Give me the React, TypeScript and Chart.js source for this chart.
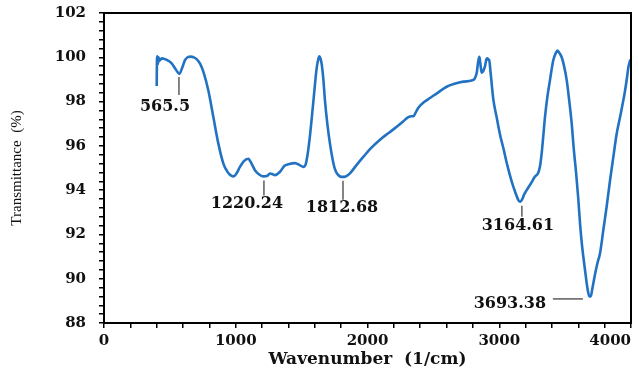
import React, { useEffect, useRef } from "react";
import { Chart, registerables } from "chart.js";

Chart.register(...registerables);

const wavenumbers = [
  400, 402, 405, 410, 414, 421, 438, 476, 514, 545, 572, 595, 615, 635, 658, 680, 703, 730, 754, 792,
  830, 868, 906, 935, 956, 982, 1005, 1032, 1060, 1095, 1120, 1146, 1175, 1209, 1240, 1260, 1280, 1298,
  1336, 1370, 1400, 1450, 1488, 1513, 1530, 1545, 1564, 1589, 1614, 1626, 1634, 1643, 1652, 1665, 1677,
  1695, 1715, 1735, 1753, 1775, 1804, 1835, 1867, 1915, 1968, 2030, 2095, 2160, 2222, 2270, 2310, 2335,
  2350, 2365, 2386, 2430, 2474, 2540, 2601, 2660, 2727, 2790, 2815, 2829, 2840, 2849, 2857, 2867, 2880,
  2892, 2902, 2910, 2918, 2924, 2935, 2955, 2980, 3006, 3031, 3060, 3094, 3125, 3145, 3160, 3175, 3190,
  3208, 3240, 3270, 3297, 3310, 3322, 3335, 3347, 3365, 3385, 3410, 3430, 3441, 3456, 3474, 3492, 3512,
  3530, 3550, 3565, 3583, 3600, 3613, 3625, 3638, 3655, 3670, 3684, 3695, 3705, 3727, 3745, 3765, 3790,
  3815, 3840, 3866, 3890, 3917, 3940, 3955, 3970, 3980, 3995,
];

const transmittance = [
  98.7, 99.9, 100.05, 99.7, 100.0, 99.85, 99.95, 99.88, 99.72, 99.45, 99.25, 99.55, 99.87, 100.0, 100.03,
  100.0, 99.92, 99.7, 99.35, 98.5, 97.3, 96.1, 95.2, 94.85, 94.7, 94.62, 94.75, 95.05, 95.3, 95.42, 95.2,
  94.9, 94.72, 94.62, 94.65, 94.75, 94.72, 94.68, 94.83, 95.1, 95.17, 95.22, 95.12, 95.05, 95.15, 95.6,
  96.5, 98.0, 99.5, 99.9, 100.05, 99.95, 99.7, 99.0, 98.05, 97.0, 96.1, 95.4, 94.95, 94.7, 94.6, 94.62,
  94.76, 95.12, 95.5, 95.92, 96.28, 96.58, 96.86, 97.1, 97.3, 97.34, 97.34, 97.5, 97.72, 97.98, 98.16,
  98.43, 98.67, 98.8, 98.9, 98.95, 99.05, 99.3, 99.8, 100.02, 99.7, 99.3, 99.4, 99.6, 99.9, 99.95, 99.9,
  99.87, 99.27, 98.1, 97.3, 96.5, 95.9, 95.15, 94.4, 93.85, 93.55, 93.48, 93.6, 93.82, 94.0, 94.3, 94.6,
  94.8, 95.1, 95.66, 96.5, 97.3, 98.2, 98.97, 99.87, 100.2, 100.3, 100.2, 100.0, 99.6, 98.97, 98.1, 97.0,
  95.9, 94.8, 93.6, 92.5, 91.7, 91.0, 90.2, 89.55, 89.2, 89.2, 89.5, 90.2, 90.7, 91.15, 92.2, 93.25, 94.4,
  95.5, 96.5, 97.3, 98.0, 98.5, 99.1, 99.55, 99.9,
];

const peakLabels = ["565.5", "1220.24", "1812.68", "3164.61", "3693.38"];
const peakWavenumbers = [569, 1214, 1814, 3172, 3688];
const peakTransmittance = [99.25, 94.62, 94.6, 93.48, 89.2];

const xMin = 0;
const xMax = 4000;
const xStep = 200;
const xLabelEvery = 1000;
const yMin = 88;
const yMax = 102;
const yStep = 0.4;
const yLabelEvery = 2;

const xTitle = "Wavenumber  (1/cm)";
const yTitle = "Transmittance  (%)";

const SERIF_BOLD = "'DejaVu Serif', serif";

const boxPlugin = {
  id: "boxPlugin",
  beforeDraw(chart: any) {
    // keep the last x tick label inside the canvas (right-aligned to its tick)
    const xs = chart.scales.x;
    const items = xs.getLabelItems(chart.chartArea);
    for (let i = items.length - 1; i >= 0; i--) {
      if (items[i].label !== "") {
        items[i].options.textAlign = "right";
        break;
      }
    }
  },
  afterDraw(chart: any) {
    const { ctx, chartArea } = chart;
    ctx.save();
    ctx.strokeStyle = "#000";
    ctx.lineWidth = 2;
    ctx.strokeRect(chartArea.left, chartArea.top, chartArea.right - chartArea.left, chartArea.bottom - chartArea.top);
    ctx.restore();
  },
};

// per-label layout: gap below curve, line length, text offsets, horizontal leader?
const annotationLayout = [
  { gap: 3, len: 18, tdx: -14, tdy: 12, horiz: false },
  { gap: 4, len: 15, tdx: -17, tdy: 8, horiz: false },
  { gap: 4, len: 19, tdx: -1, tdy: 8, horiz: false },
  { gap: 4, len: 11, tdx: -4, tdy: 9, horiz: false },
  { gap: 0, len: 30, tdx: -80, tdy: 7, horiz: true },
];

const annotationPlugin = {
  id: "annotationPlugin",
  afterDatasetsDraw(chart: any) {
    const { ctx } = chart;
    const xs = chart.scales.x;
    const ys = chart.scales.y;
    ctx.save();
    ctx.font = `bold 16px ${SERIF_BOLD}`;
    ctx.fillStyle = "#111";
    ctx.strokeStyle = "#333";
    ctx.lineWidth = 1.2;
    peakLabels.forEach((label, i) => {
      const lay = annotationLayout[i];
      const px = xs.getPixelForValue(peakWavenumbers[i]);
      const py = ys.getPixelForValue(peakTransmittance[i]);
      ctx.beginPath();
      ctx.textAlign = "center";
      ctx.textBaseline = "middle";
      if (lay.horiz) {
        const x0 = px - 7;
        ctx.moveTo(x0, py + 2.5);
        ctx.lineTo(x0 - lay.len, py + 2.5);
        ctx.stroke();
        ctx.fillText(label, px + lay.tdx, py + lay.tdy);
      } else {
        const y0 = py + lay.gap;
        ctx.moveTo(px, y0);
        ctx.lineTo(px, y0 + lay.len);
        ctx.stroke();
        ctx.fillText(label, px + lay.tdx, y0 + lay.len + lay.tdy);
      }
    });
    ctx.restore();
  },
};

export default function App() {
  const canvasRef = useRef<HTMLCanvasElement | null>(null);

  useEffect(() => {
    document.body.style.margin = "0";
    const canvas = canvasRef.current;
    if (!canvas) return;
    const points = wavenumbers.map((w, i) => ({ x: w, y: transmittance[i] }));
    const chart = new Chart(canvas, {
      type: "line",
      data: {
        datasets: [
          {
            data: points,
            borderColor: "#2272C3",
            borderWidth: 2.6,
            pointRadius: 0,
            fill: false,
            cubicInterpolationMode: "monotone",
          },
        ],
      },
      options: {
        animation: false,
        responsive: true,
        maintainAspectRatio: false,
        layout: { padding: { top: 13, right: 8, bottom: 0, left: 0 } },
        plugins: { legend: { display: false }, tooltip: { enabled: false } },
        scales: {
          x: {
            type: "linear",
            min: xMin,
            max: xMax,
            afterFit(scale: any) {
              scale.height = 46;
              scale.paddingLeft = 0;
              scale.paddingRight = 0;
            },
            border: { display: true, color: "#000", width: 2 },
            grid: { display: true, drawOnChartArea: false, drawTicks: true, tickLength: 5, color: "#000", lineWidth: 1.5 },
            ticks: {
              stepSize: xStep,
              autoSkip: false,
              maxRotation: 0,
              minRotation: 0,
              padding: 4,
              color: "#111",
              font: { family: SERIF_BOLD, size: 15, weight: "bold" },
              callback: (v: any) => {
                const n = Number(v);
                return Math.abs(n % xLabelEvery) < 1e-6 ? String(n) : "";
              },
            },
            title: {
              display: true,
              text: xTitle,
              color: "#111",
              font: { family: SERIF_BOLD, size: 17, weight: "bold", lineHeight: 1.1 },
              padding: { top: 0, bottom: 0 },
            },
          },
          y: {
            type: "linear",
            min: yMin,
            max: yMax,
            afterFit(scale: any) {
              scale.width = 104;
              scale.paddingTop = 0;
              scale.paddingBottom = 0;
            },
            border: { display: true, color: "#000", width: 2 },
            grid: { display: true, drawOnChartArea: false, drawTicks: true, tickLength: 5, color: "#000", lineWidth: 1.5 },
            ticks: {
              stepSize: yStep,
              autoSkip: false,
              padding: 13,
              color: "#111",
              font: { family: SERIF_BOLD, size: 15, weight: "bold" },
              callback: (v: any) => {
                const n = Number(v);
                const r = Math.round(n);
                return Math.abs(n - r) < 1e-6 && r % yLabelEvery === 0 ? String(r) : "";
              },
            },
            title: {
              display: true,
              text: yTitle,
              color: "#111",
              font: { family: "'Liberation Serif', serif", size: 15, lineHeight: 1.2 },
              padding: { top: 8, bottom: 4 },
            },
          },
        },
      },
      plugins: [boxPlugin, annotationPlugin],
    } as any);
    return () => chart.destroy();
  }, []);

  return (
    <div style={{ width: 639, height: 369, position: "relative" }}>
      <canvas ref={canvasRef} />
    </div>
  );
}
